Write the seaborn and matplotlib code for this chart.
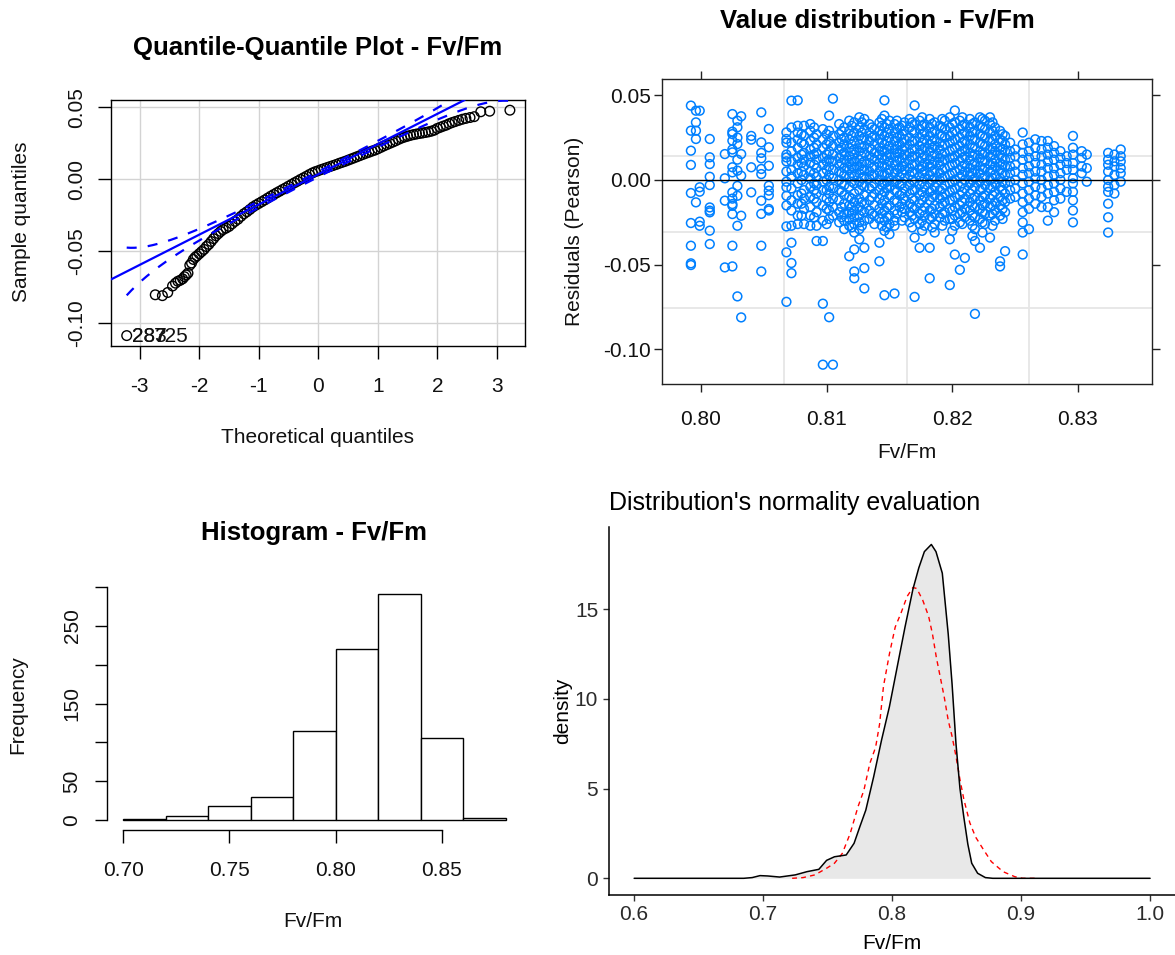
import numpy as np
import pandas as pd
import matplotlib
matplotlib.use("Agg")
import matplotlib.pyplot as plt
import seaborn as sns
from statistics import NormalDist

# ---------------------------------------------------------------- data
# Quantile-quantile plot (theoretical vs. sample quantiles of the residuals)
qq_theoretical = [-3.22, -2.74, -2.62, -2.53, -2.45, -2.40, -2.36, -2.32, -2.28, -2.25,
                  -2.22, -2.19, -2.16, -2.13, -2.10, -2.07, -2.04, -2.00,
                  -1.96, -1.92, -1.88, -1.84, -1.80, -1.76, -1.72, -1.68, -1.64, -1.60,
                  -1.55, -1.50, -1.45, -1.40, -1.35, -1.30, -1.25, -1.20, -1.15, -1.10,
                  -1.05, -1.00, -0.95, -0.90, -0.85, -0.80, -0.75, -0.70, -0.65, -0.60,
                  -0.55, -0.50, -0.45, -0.40, -0.35, -0.30, -0.25, -0.20, -0.15, -0.10,
                  -0.05, 0.00, 0.05, 0.10, 0.15, 0.20, 0.25, 0.30, 0.35, 0.40,
                  0.45, 0.50, 0.55, 0.60, 0.65, 0.70, 0.75, 0.80, 0.85, 0.90,
                  0.95, 1.00, 1.05, 1.10, 1.15, 1.20, 1.25, 1.30, 1.35, 1.40,
                  1.45, 1.50, 1.55, 1.60, 1.65, 1.70, 1.75, 1.80, 1.85, 1.90,
                  1.95, 2.00, 2.05, 2.10, 2.15, 2.20, 2.25, 2.30,
                  2.36, 2.42, 2.48, 2.55, 2.62, 2.73, 2.88, 3.22]
qq_sample = [-0.1090, -0.0806, -0.0812, -0.0790, -0.0745, -0.0725, -0.0712, -0.0705, -0.0695, -0.0680,
             -0.0668, -0.0655, -0.0600, -0.0585, -0.0560, -0.0545, -0.0535, -0.0520,
             -0.0505, -0.0490, -0.0470, -0.0455, -0.0435, -0.0415, -0.0395, -0.0380, -0.0365, -0.0352,
             -0.0342, -0.0330, -0.0312, -0.0295, -0.0280, -0.0260, -0.0242, -0.0228, -0.0212, -0.0195,
             -0.0182, -0.0170, -0.0158, -0.0146, -0.0133, -0.0120, -0.0108, -0.0096, -0.0085, -0.0073,
             -0.0062, -0.0050, -0.0038, -0.0026, -0.0015, -0.0003, 0.0008, 0.0019, 0.0031, 0.0042,
             0.0051, 0.0058, 0.0066, 0.0073, 0.0080, 0.0087, 0.0094, 0.0101, 0.0109, 0.0116,
             0.0123, 0.0131, 0.0139, 0.0147, 0.0155, 0.0163, 0.0171, 0.0179, 0.0186, 0.0194,
             0.0201, 0.0210, 0.0220, 0.0230, 0.0239, 0.0248, 0.0257, 0.0266, 0.0276, 0.0285,
             0.0292, 0.0298, 0.0304, 0.0309, 0.0313, 0.0317, 0.0320, 0.0324, 0.0328, 0.0333,
             0.0340, 0.0352, 0.0360, 0.0368, 0.0375, 0.0385, 0.0393, 0.0400,
             0.0408, 0.0416, 0.0422, 0.0428, 0.0434, 0.0468, 0.0472, 0.0479]
qq_line_intercept = 0.00331
qq_line_slope = 0.02102
qq_n = 788
qq_id_labels = ["283", "287", "725"]

# Residuals (Pearson) vs fitted Fv/Fm
fitted_levels = [0.7992, 0.7996, 0.7999, 0.8007, 0.8019, 0.8025, 0.8029, 0.8032, 0.8040, 0.8048,
                 0.8054, 0.8068, 0.8072, 0.8077, 0.8082, 0.8087, 0.8092, 0.8097, 0.8102, 0.8105,
                 0.8110, 0.8114, 0.8118, 0.8122, 0.8126, 0.8130, 0.8134, 0.8138, 0.8142, 0.8146,
                 0.8150, 0.8154, 0.8158, 0.8162, 0.8166, 0.8170, 0.8174, 0.8178, 0.8182, 0.8186,
                 0.8190, 0.8194, 0.8198, 0.8202, 0.8206, 0.8210, 0.8214, 0.8218, 0.8222, 0.8226,
                 0.8230, 0.8234, 0.8238, 0.8242, 0.8246, 0.8250, 0.8256, 0.8261, 0.8266, 0.8271,
                 0.8276, 0.8281, 0.8286, 0.8291, 0.8296, 0.8303, 0.8307, 0.8324, 0.8329, 0.8334,
                 0.8080, 0.8090, 0.8100, 0.8112, 0.8120, 0.8128, 0.8136, 0.8144, 0.8148, 0.8156,
                 0.8160, 0.8168, 0.8176, 0.8184, 0.8192, 0.8200, 0.8208, 0.8216, 0.8224, 0.8232,
                 0.8240]
residuals_at_level = [
    [0.0439, 0.0291, 0.0173, 0.0089, -0.0077, -0.0254, -0.0388, -0.0492, -0.0502],
    [0.0409, 0.0340, 0.0291, 0.0242, -0.0132],
    [0.0409, -0.0043, -0.0069, -0.0246, -0.0270],
    [0.0242, 0.0134, 0.0094, 0.0019, -0.0030, -0.0162, -0.0181, -0.0191, -0.0299, -0.0378],
    [0.0153, 0.0010, -0.0122, -0.0516],
    [0.0389, 0.0285, 0.0271, 0.0232, 0.0180, 0.0163, 0.0075, 0.0045, -0.0073, -0.0110, -0.0142, -0.0152, -0.0201, -0.0388, -0.0510],
    [0.0350, 0.0311, 0.0250, 0.0212, 0.0120, 0.0055, -0.0035, -0.0093, -0.0270, -0.0687],
    [0.0376, 0.0153, 0.0025, -0.0211, -0.0811],
    [0.0260, 0.0238, 0.0075, -0.0073],
    [0.0399, 0.0222, 0.0160, 0.0128, 0.0065, 0.0035, -0.0122, -0.0200, -0.0388, -0.0540],
    [0.0301, 0.0193, 0.0084, -0.0034, -0.0063, -0.0090, -0.0171, -0.0180],
    [0.0281, 0.0242, 0.0220, 0.0150, 0.0133, 0.0110, 0.0050, -0.0010, -0.0043, -0.0093, -0.0150, -0.0274, -0.0427, -0.0719],
    [0.0468, 0.031, 0.022, 0.017, 0.011, 0.006, 0.002, -0.005, -0.012, -0.018, -0.027, -0.037, -0.049, -0.055],
    [0.047, 0.032, 0.028, 0.024, 0.019, 0.013, 0.009, 0.004, -0.002, -0.009, -0.014, -0.021, -0.026],
    [0.032, 0.026, 0.021, 0.016, 0.012, 0.008, 0.003, -0.006, -0.011, -0.017, -0.026],
    [0.033, 0.029, 0.023, 0.018, 0.014, 0.010, 0.005, 0.001, -0.004, -0.010, -0.016, -0.021, -0.027],
    [0.027, 0.021, 0.016, 0.012, 0.007, 0.002, -0.003, -0.008, -0.013, -0.019, -0.027, -0.036],
    [0.030, 0.024, 0.019, 0.013, 0.009, 0.004, -0.001, -0.006, -0.015, -0.024, -0.036, -0.073, -0.109],
    [0.038, 0.029, 0.023, 0.017, 0.012, 0.008, 0.003, -0.004, -0.008, -0.013, -0.018, -0.023, -0.081],
    [0.048, 0.026, 0.020, 0.015, 0.011, 0.006, 0.001, -0.005, -0.011, -0.016, -0.021, -0.109],
    [0.033, 0.027, 0.022, 0.018, 0.013, 0.009, 0.005, 0.000, -0.006, -0.012, -0.019, -0.025],
    [0.031, 0.025, 0.021, 0.016, 0.012, 0.007, 0.003, -0.003, -0.009, -0.014, -0.020, -0.024, -0.029],
    [0.035, 0.029, 0.024, 0.019, 0.014, 0.010, 0.006, 0.002, -0.004, -0.010, -0.015, -0.019, -0.023, -0.027, -0.045],
    [0.034, 0.028, 0.023, 0.018, 0.015, 0.011, 0.007, 0.002, -0.002, -0.008, -0.013, -0.018, -0.022, -0.026, -0.031, -0.041, -0.054, -0.058],
    [0.037, 0.031, 0.026, 0.021, 0.017, 0.012, 0.008, 0.004, -0.001, -0.006, -0.011, -0.016, -0.021, -0.025, -0.029, -0.035],
    [0.036, 0.030, 0.025, 0.020, 0.016, 0.011, 0.006, 0.002, -0.004, -0.009, -0.014, -0.019, -0.024, -0.040, -0.052, -0.064],
    [0.033, 0.028, 0.023, 0.019, 0.014, 0.010, 0.005, 0.001, -0.005, -0.012, -0.018, -0.023],
    [0.030, 0.026, 0.021, 0.016, 0.012, 0.008, 0.003, -0.002, -0.008, -0.015, -0.021, -0.026],
    [0.034, 0.029, 0.024, 0.019, 0.015, 0.010, 0.005, 0.000, -0.006, -0.011, -0.017, -0.023, -0.037, -0.048],
    [0.047, 0.038, 0.031, 0.026, 0.021, 0.017, 0.012, 0.008, 0.003, -0.002, -0.007, -0.012, -0.018, -0.024, -0.030, -0.068],
    [0.035, 0.030, 0.025, 0.020, 0.015, 0.011, 0.006, 0.001, -0.004, -0.009, -0.015, -0.021, -0.026, -0.032],
    [0.033, 0.028, 0.023, 0.018, 0.014, 0.009, 0.004, -0.001, -0.006, -0.012, -0.018, -0.024, -0.027, -0.067],
    [0.031, 0.026, 0.021, 0.016, 0.012, 0.007, 0.002, -0.003, -0.009, -0.016],
    [0.034, 0.029, 0.024, 0.019, 0.015, 0.010, 0.006, 0.001, -0.005, -0.011, -0.017, -0.022],
    [0.036, 0.031, 0.025, 0.021, 0.016, 0.012, 0.007, 0.003, -0.003, -0.008, -0.014, -0.019, -0.025],
    [0.044, 0.033, 0.028, 0.023, 0.018, 0.014, 0.009, 0.004, -0.001, -0.006, -0.012, -0.017, -0.023, -0.034, -0.069],
    [0.035, 0.030, 0.025, 0.020, 0.016, 0.011, 0.007, 0.002, -0.003, -0.009, -0.014, -0.020, -0.026, -0.040],
    [0.033, 0.028, 0.024, 0.019, 0.014, 0.010, 0.005, 0.001, -0.004, -0.010, -0.016, -0.021, -0.027],
    [0.036, 0.031, 0.026, 0.021, 0.017, 0.012, 0.008, 0.003, -0.002, -0.007, -0.012, -0.018, -0.023, -0.040, -0.058],
    [0.034, 0.029, 0.024, 0.020, 0.015, 0.011, 0.006, 0.001, -0.004, -0.009, -0.015, -0.020, -0.026, -0.031],
    [0.032, 0.027, 0.022, 0.018, 0.013, 0.009, 0.004, 0.000, -0.006, -0.011, -0.016, -0.022],
    [0.035, 0.030, 0.025, 0.021, 0.016, 0.012, 0.007, 0.002, -0.003, -0.008, -0.013, -0.019, -0.024],
    [0.037, 0.031, 0.026, 0.022, 0.017, 0.013, 0.008, 0.003, -0.002, -0.007, -0.012, -0.017, -0.023, -0.035, -0.062],
    [0.041, 0.034, 0.029, 0.024, 0.019, 0.014, 0.010, 0.005, 0.000, -0.005, -0.010, -0.016, -0.021, -0.027, -0.044],
    [0.035, 0.030, 0.025, 0.020, 0.016, 0.011, 0.006, 0.002, -0.004, -0.009, -0.015, -0.020, -0.025, -0.053],
    [0.033, 0.028, 0.023, 0.018, 0.014, 0.009, 0.005, 0.000, -0.005, -0.011, -0.017, -0.022, -0.046],
    [0.036, 0.031, 0.026, 0.021, 0.016, 0.012, 0.007, 0.003, -0.002, -0.008, -0.013, -0.018, -0.024],
    [0.034, 0.029, 0.024, 0.019, 0.015, 0.010, 0.006, 0.001, -0.004, -0.010, -0.016, -0.022, -0.029, -0.036, -0.079],
    [0.037, 0.032, 0.027, 0.022, 0.017, 0.013, 0.008, 0.004, -0.001, -0.006, -0.012, -0.017, -0.023, -0.040],
    [0.035, 0.030, 0.025, 0.020, 0.016, 0.011, 0.007, 0.002, -0.003, -0.009, -0.014, -0.020, -0.026],
    [0.037, 0.033, 0.028, 0.023, 0.018, 0.014, 0.009, 0.005, 0.000, -0.005, -0.011, -0.016, -0.021, -0.034],
    [0.031, 0.026, 0.021, 0.017, 0.012, 0.008, 0.003, -0.002, -0.007, -0.013, -0.018, -0.024],
    [0.029, 0.024, 0.019, 0.015, 0.010, 0.006, 0.001, -0.004, -0.010, -0.015, -0.021, -0.048, -0.051],
    [0.026, 0.021, 0.017, 0.012, 0.008, 0.003, -0.002, -0.008, -0.013, -0.019, -0.042],
    [0.022, 0.017, 0.013, 0.008, 0.004, -0.001, -0.006, -0.011],
    [0.018, 0.014, 0.009, 0.005, 0.000, -0.005, -0.010],
    [0.028, 0.021, 0.016, 0.012, 0.007, 0.003, -0.002, -0.008, -0.013, -0.019, -0.025, -0.031, -0.044],
    [0.022, 0.017, 0.013, 0.008, 0.004, -0.001, -0.006, -0.011, -0.017, -0.029],
    [0.024, 0.019, 0.014, 0.010, 0.005, 0.001, -0.004, -0.009, -0.014],
    [0.023, 0.018, 0.014, 0.009, 0.005, 0.000, -0.005, -0.010, -0.016],
    [0.023, 0.019, 0.015, 0.011, 0.007, 0.002, -0.003, -0.008, -0.016, -0.024],
    [0.020, 0.016, 0.012, 0.007, 0.003, -0.002, -0.007, -0.012, -0.019],
    [0.017, 0.013, 0.009, 0.004, 0.000, -0.005, -0.011],
    [0.014, 0.010, 0.006, -0.007],
    [0.026, 0.019, 0.015, 0.010, 0.006, 0.001, -0.002, -0.007, -0.012, -0.018, -0.025],
    [0.017, 0.013, 0.008, 0.004],
    [0.015, 0.007, -0.001],
    [0.016, 0.012, 0.009, 0.005, 0.000, -0.004, -0.007, -0.014, -0.022, -0.031],
    [0.015, 0.011, 0.008, 0.003, -0.003, -0.008],
    [0.018, 0.014, 0.011, 0.007, 0.004, -0.001],
    [0.027, 0.022, 0.015, 0.010, 0.005, 0.000, -0.008, -0.014, -0.021],
    [0.031, 0.025, 0.019, 0.015, 0.009, 0.004, -0.002, -0.006, -0.011, -0.022],
    [0.027, 0.021, 0.015, 0.011, 0.006, 0.000, -0.006, -0.011, -0.017, -0.026],
    [0.029, 0.024, 0.019, 0.015, 0.010, 0.004, -0.002, -0.007, -0.016, -0.022],
    [0.032, 0.026, 0.021, 0.017, 0.012, 0.008, 0.004, -0.001, -0.011, -0.016, -0.020, -0.028],
    [0.034, 0.028, 0.024, 0.019, 0.014, 0.010, 0.006, 0.001, -0.003, -0.013, -0.018, -0.027],
    [0.031, 0.025, 0.018, 0.013, 0.007, 0.003, -0.004, -0.010, -0.020],
    [0.036, 0.032, 0.027, 0.022, 0.017, 0.013, 0.008, 0.003, -0.003, -0.009, -0.014, -0.020, -0.027],
    [0.033, 0.028, 0.023, 0.018, 0.014, 0.009, 0.004, -0.001, -0.005, -0.016, -0.022, -0.028],
    [0.035, 0.030, 0.025, 0.020, 0.016, 0.011, 0.006, 0.000, -0.007, -0.013, -0.020],
    [0.032, 0.027, 0.022, 0.018, 0.013, 0.008, 0.004, -0.002, -0.008, -0.014, -0.019, -0.024],
    [0.034, 0.029, 0.023, 0.018, 0.014, 0.009, 0.005, 0.000, -0.006, -0.011, -0.016, -0.021, -0.028],
    [0.037, 0.032, 0.027, 0.022, 0.018, 0.013, 0.008, 0.004, -0.001, -0.007, -0.012, -0.018, -0.024, -0.030],
    [0.033, 0.028, 0.023, 0.019, 0.014, 0.009, 0.005, 0.000, -0.006, -0.010, -0.017, -0.022, -0.028],
    [0.036, 0.031, 0.026, 0.020, 0.015, 0.011, 0.006, 0.001, -0.005, -0.010, -0.014, -0.020, -0.027],
    [0.033, 0.028, 0.023, 0.018, 0.013, 0.009, 0.004, -0.001, -0.006, -0.012, -0.018, -0.023, -0.030],
    [0.037, 0.032, 0.027, 0.022, 0.017, 0.013, 0.008, 0.003, -0.002, -0.007, -0.013, -0.019, -0.026],
    [0.033, 0.028, 0.024, 0.019, 0.014, 0.009, 0.004, 0.000, -0.006, -0.011, -0.015, -0.021, -0.027, -0.033],
    [0.036, 0.031, 0.026, 0.021, 0.015, 0.011, 0.006, 0.001, -0.005, -0.010, -0.015, -0.019, -0.025, -0.031],
    [0.034, 0.029, 0.024, 0.019, 0.015, 0.010, 0.006, 0.001, -0.004, -0.009, -0.015, -0.020, -0.027],
    [0.027, 0.023, 0.018, 0.013, 0.009, 0.004, -0.001, -0.006, -0.012, -0.017, -0.023],
]

# Histogram of Fv/Fm
hist_edges = [0.70, 0.72, 0.74, 0.76, 0.78, 0.80, 0.82, 0.84, 0.86, 0.88]
hist_counts = [1, 5, 18, 30, 114, 220, 291, 106, 3]

# Density of Fv/Fm and the matching normal density
kde_x = [0.600, 0.650, 0.685, 0.6915, 0.6976, 0.7036, 0.7128, 0.7249, 0.734, 0.7432,
         0.7492, 0.7553, 0.7644, 0.7705, 0.7751, 0.7796, 0.7857, 0.7918, 0.7979, 0.804,
         0.810, 0.8161, 0.8207, 0.8250, 0.8304, 0.8340, 0.8389, 0.8435, 0.8465, 0.8495,
         0.8526, 0.8556, 0.8587, 0.8617, 0.8663, 0.8723, 0.8780, 0.900, 0.950, 1.000]
kde_y = [0.0, 0.0, 0.0, 0.04, 0.15, 0.13, 0.07, 0.19, 0.37, 0.5,
         1.0, 1.2, 1.3, 1.95, 2.9, 3.8, 5.66, 7.7, 9.56, 11.8,
         14.0, 16.1, 17.3, 18.2, 18.6, 18.2, 17.0, 13.6, 10.8, 7.5,
         5.0, 3.4, 1.9, 0.84, 0.28, 0.04, 0.0, 0.0, 0.0, 0.0]
normal_x = [0.7225, 0.731, 0.7401, 0.7492, 0.7553, 0.7614, 0.7675, 0.7736, 0.7781, 0.7827,
            0.7872, 0.7903, 0.7933, 0.7979, 0.8024, 0.807, 0.8116, 0.8161, 0.8191, 0.8237,
            0.8283, 0.8313, 0.8343, 0.8368, 0.8404, 0.8435, 0.8465, 0.8495, 0.8526, 0.8556,
            0.8602, 0.8647, 0.8708, 0.8769, 0.886, 0.8951, 0.9012, 0.9106]
normal_y = [0.0, 0.04, 0.19, 0.56, 0.84, 1.39, 2.5, 4.0, 4.9, 6.4,
            7.3, 8.6, 10.7, 12.5, 14.0, 14.8, 15.7, 16.2, 16.15, 15.5,
            14.6, 13.6, 12.3, 11.4, 10.1, 8.8, 7.9, 6.8, 5.5, 4.4,
            3.1, 2.3, 1.6, 0.93, 0.37, 0.09, 0.0, 0.0]

# ---------------------------------------------------------------- style
sns.set_style("white")
plt.rcParams["font.family"] = ["Liberation Sans", "DejaVu Sans"]
plt.rcParams["axes.unicode_minus"] = False

W, H = 1175, 955
fig = plt.figure(figsize=(W / 100, H / 100), dpi=100)
fig.patch.set_facecolor("white")


def add_ax(left, top, right, bottom):
    return fig.add_axes([left / W, 1 - bottom / H, (right - left) / W, (bottom - top) / H])


def ftext(x, y, s, **kw):
    fig.text(x / W, 1 - y / H, s, **kw)


INK = "#111111"

# ================================================================ Q-Q plot
ax1 = add_ax(111.4, 100, 525.2, 345.5)
ax1.set_xlim(-3.477, 3.477)
ax1.set_ylim(-0.1159, 0.0550)
ax1.set_xticks([-3, -2, -1, 0, 1, 2, 3])
ax1.set_xticklabels(["-3", "-2", "-1", "0", "1", "2", "3"])
ax1.set_yticks([-0.10, -0.05, 0.00, 0.05])
ax1.set_yticklabels(["-0.10", "-0.05", "0.00", "0.05"], rotation=90, va="center")
ax1.grid(True, color="#D3D3D3", lw=1.0)
ax1.set_axisbelow(True)
for sp in ax1.spines.values():
    sp.set_color("black")
    sp.set_linewidth(1.0)
ax1.tick_params(axis="both", direction="out", length=9.5, width=1.0, color="black",
                bottom=True, left=True, labelsize=15, labelcolor=INK)
ax1.tick_params(axis="x", pad=13)
ax1.tick_params(axis="y", pad=9)

sns.scatterplot(x=qq_theoretical, y=qq_sample, ax=ax1, marker="o", s=48,
                color="black", linewidth=1.0, zorder=3, legend=False)
coll = ax1.collections[-1]
coll.set_facecolor("none")
coll.set_edgecolor("black")

ax1.axline((0, qq_line_intercept), slope=qq_line_slope, color="blue", lw=1.6, zorder=4)
nd = NormalDist()
zgrid = np.linspace(min(qq_theoretical), max(qq_theoretical), 400)
pdf = np.array([nd.pdf(z) for z in zgrid])
cdf = np.array([nd.cdf(z) for z in zgrid])
se = qq_line_slope / pdf * np.sqrt(cdf * (1 - cdf) / qq_n)
fit = qq_line_intercept + qq_line_slope * zgrid
zc = nd.inv_cdf(0.975)
for band in (fit + zc * se, fit - zc * se):
    ax1.plot(zgrid, band, color="blue", lw=1.6, dashes=(4.5, 5), zorder=4)

lab_x = [-3.13, -3.13, -2.77]
for s, lx in zip(qq_id_labels, lab_x):
    ax1.text(lx, -0.1093, s, fontsize=15, color=INK, ha="left", va="center", zorder=5)
ax1.set_xlabel("")
ax1.set_ylabel("")

ftext(318, 48, "Quantile-Quantile Plot - Fv/Fm", ha="center", va="center",
      fontsize=18.5, fontweight="bold", color="black")
ftext(317.5, 437, "Theoretical quantiles", ha="center", va="center", fontsize=15, color=INK)
ftext(21.4, 222, "Sample quantiles", ha="center", va="center", rotation=90, fontsize=15, color=INK)

# ================================================================ residual scatter
ax2 = add_ax(662, 79, 1152, 384)
ax2.set_xlim(0.79690, 0.83589)
ax2.set_ylim(-0.1204, 0.0596)
for gx in (0.80660, 0.81637, 0.82608):
    ax2.axvline(gx, color="#E6E6E6", lw=1.3, zorder=0)
for gy in (0.01434, -0.03052, -0.07556):
    ax2.axhline(gy, color="#E6E6E6", lw=1.3, zorder=0)

scat = pd.DataFrame({
    "fitted": [f for f, rs in zip(fitted_levels, residuals_at_level) for _ in rs],
    "resid": [r for rs in residuals_at_level for r in rs],
})
sns.scatterplot(data=scat, x="fitted", y="resid", ax=ax2, marker="o", s=40,
                color="#0080FF", linewidth=1.1, zorder=2, legend=False)
coll2 = ax2.collections[-1]
coll2.set_facecolor("none")
coll2.set_edgecolor("#0080FF")
ax2.axhline(0, color="black", lw=1.0, zorder=3)

ax2.set_xticks([0.80, 0.81, 0.82, 0.83])
ax2.set_xticklabels(["0.80", "0.81", "0.82", "0.83"])
ax2.set_yticks([-0.10, -0.05, 0.00, 0.05])
ax2.set_yticklabels(["-0.10", "-0.05", "0.00", "0.05"])
for sp in ax2.spines.values():
    sp.set_color("#222222")
    sp.set_linewidth(1.0)
ax2.tick_params(axis="both", direction="out", length=6, width=1.0, color="#222222",
                bottom=True, left=True, top=True, right=True,
                labeltop=False, labelright=False, labelsize=15, labelcolor=INK)
ax2.tick_params(axis="x", pad=13)
ax2.tick_params(axis="y", pad=2)
ax2.set_xlabel("")
ax2.set_ylabel("")

ftext(877, 20, "Value distribution - Fv/Fm", ha="center", va="center",
      fontsize=18.5, fontweight="bold", color="black")
ftext(907, 453, "Fv/Fm", ha="center", va="center", fontsize=15, color=INK)
ftext(575, 231, "Residuals (Pearson)", ha="center", va="center", rotation=90, fontsize=15, color=INK)

# ================================================================ histogram
ax3 = add_ax(107.9, 585.1, 520.8, 829)
ax3.set_xlim(0.6928, 0.8872)
ax3.set_ylim(-11.64, 302.64)
mids = [(a + b) / 2 for a, b in zip(hist_edges[:-1], hist_edges[1:])]
sns.histplot(x=mids, weights=hist_counts, bins=hist_edges, ax=ax3, stat="count",
             color="white", edgecolor="black", linewidth=1.0, alpha=1.0)
for side in ("top", "right"):
    ax3.spines[side].set_visible(False)
ax3.spines["left"].set_bounds(0, 300)
ax3.spines["bottom"].set_bounds(0.70, 0.85)
ax3.spines["bottom"].set_position(("outward", 1))
ax3.spines["left"].set_position(("outward", 1))
for side in ("left", "bottom"):
    ax3.spines[side].set_color("black")
    ax3.spines[side].set_linewidth(1.0)
ax3.set_xticks([0.70, 0.75, 0.80, 0.85])
ax3.set_xticklabels(["0.70", "0.75", "0.80", "0.85"])
ax3.set_yticks([0, 50, 100, 150, 200, 250, 300])
ax3.set_yticklabels(["0", "50", "", "150", "", "250", ""], rotation=90, va="center")
ax3.tick_params(axis="both", direction="out", length=9, width=1.0, color="black",
                bottom=True, left=True, labelsize=15, labelcolor=INK)
ax3.tick_params(axis="x", pad=13)
ax3.tick_params(axis="y", pad=9)
ax3.set_xlabel("")
ax3.set_ylabel("")

ftext(314, 533, "Histogram - Fv/Fm", ha="center", va="center",
      fontsize=18.5, fontweight="bold", color="black")
ftext(313, 921.7, "Fv/Fm", ha="center", va="center", fontsize=15, color=INK)
ftext(18, 705, "Frequency", ha="center", va="center", rotation=90, fontsize=15, color=INK)

# ================================================================ density
ax4 = add_ax(608.6, 526.7, 1175, 895)
ax4.set_xlim(0.5802, 1.0193)
ax4.set_ylim(-0.93, 19.59)
ax4.fill_between(kde_x, kde_y, 0, color="#E8E8E8", lw=0, zorder=1)
sns.lineplot(x=kde_x, y=kde_y, ax=ax4, color="black", lw=1.1, sort=False,
             estimator=None, zorder=3)
sns.lineplot(x=normal_x, y=normal_y, ax=ax4, color="red", lw=1.0, sort=False,
             estimator=None, dashes=False, zorder=2)
ax4.lines[-1].set_dashes((3.5, 3.0))
for side in ("top", "right"):
    ax4.spines[side].set_visible(False)
for side in ("left", "bottom"):
    ax4.spines[side].set_color("black")
    ax4.spines[side].set_linewidth(1.1)
ax4.set_xticks([0.6, 0.7, 0.8, 0.9, 1.0])
ax4.set_xticklabels(["0.6", "0.7", "0.8", "0.9", "1.0"])
ax4.set_yticks([0, 5, 10, 15])
ax4.set_yticklabels(["0", "5", "10", "15"])
ax4.tick_params(axis="both", direction="out", length=4, width=1.0, color="#333333",
                bottom=True, left=True, labelsize=15, labelcolor="#2b2b2b", pad=3.5)
ax4.set_xlabel("")
ax4.set_ylabel("")

ftext(609, 503, "Distribution's normality evaluation", ha="left", va="center",
      fontsize=18, color="black")
ftext(892, 943, "Fv/Fm", ha="center", va="center", fontsize=15, color="black")
ftext(563, 711, "density", ha="center", va="center", rotation=90, fontsize=15, color="black")

fig.savefig("out.png", dpi=100, facecolor="white")
